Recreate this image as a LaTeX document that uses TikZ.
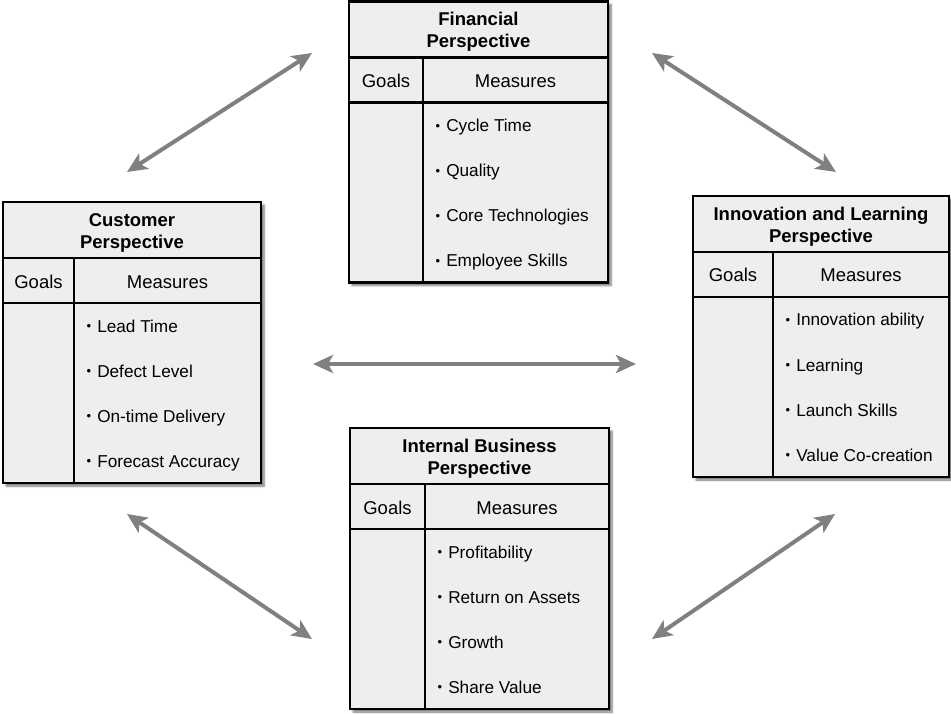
\documentclass[tikz,border=0pt]{standalone}
\usepackage{fontspec}
\setmainfont{Liberation Sans}
\usetikzlibrary{calc,arrows.meta,shadows.blur}

\definecolor{boxfill}{HTML}{EEEEEE}
\definecolor{linkgray}{HTML}{808080}

\tikzset{
  pbox/.style={draw=black, line width=2.8pt, fill=boxfill, outer sep=0pt, inner sep=0pt,
    blur shadow={shadow xshift=3pt, shadow yshift=-3pt, shadow blur steps=6, shadow opacity=55}},
  rule/.style={draw=black, line width=2.2pt},
  ttl/.style={font=\fontsize{18.5}{22}\selectfont\bfseries, inner sep=0pt, anchor=base},
  hdr/.style={font=\fontsize{18.5}{22}\selectfont, inner sep=0pt, anchor=base},
  itm/.style={font=\fontsize{17.2}{20}\selectfont, inner sep=0pt, anchor=base west},
  link/.style={draw=linkgray, line width=4pt,
    {Stealth[length=20pt,width=18pt,inset=5pt]}-{Stealth[length=20pt,width=18pt,inset=5pt]}},
}

% small raised bullet in front of each measure
\newcommand\measurebullet{\raisebox{1.3pt}{\fontsize{13}{13}\selectfont\textbullet}\hspace{6pt}}

% #1 name, #2 left, #3 top, #4 width, #5 goals column width,
% #6 and #7 title lines, #8 list of measures
\newcommand\perspective[8]{%
  \node[pbox, minimum width=#4pt, minimum height=281pt, anchor=north west] (#1) at (#2,#3) {};
  \draw[rule] ($(#1.north west)+(0,56)$) -- ($(#1.north east)+(0,56)$);
  \draw[rule] ($(#1.north west)+(0,101)$) -- ($(#1.north east)+(0,101)$);
  \draw[rule] ($(#1.north west)+(#5,56)$) -- ($(#1.south west)+(#5,0)$);
  \node[ttl] (#1-t1) at ($(#1.north)+(0,24.5)$) {#6};
  \node[ttl] (#1-t2) at ($(#1.north)+(0,46.3)$) {#7};
  \node[hdr] (#1-goals) at ($(#1.north west)+({#5/2},86)$) {Goals};
  \node[hdr] (#1-measures) at ($(#1.north east)+({(#5-#4)/2},86)$) {Measures};
  \foreach \m [count=\k] in {#8} {
    \node[itm] (#1-m\k) at ($(#1.north west)+({#5+12.5},{85+45*\k})$) {\measurebullet\m};
  }
}

\begin{document}
\begin{tikzpicture}[x=1pt,y=-1pt]
  \useasboundingbox (0,0) rectangle (951,714);

  % the four perspectives
  \perspective{fin}{349}{1.5}{259}{74}{Financial}{Perspective}%
    {Cycle Time, Quality, Core Technologies, Employee Skills}
  \perspective{cus}{3}{202}{258}{71}{Customer}{Perspective}%
    {Lead Time, Defect Level, On-time Delivery, Forecast Accuracy}
  \perspective{inn}{693}{196}{256}{80}{Innovation and Learning}{Perspective}%
    {Innovation ability, Learning, Launch Skills, Value Co-creation}
  \perspective{int}{350}{428}{259}{75}{Internal Business}{Perspective}%
    {Profitability, Return on Assets, Growth, Share Value}

  % ends of the two-way links
  \coordinate (cus-fin) at (127,172);
  \coordinate (fin-cus) at (312,53);
  \coordinate (fin-inn) at (652,53);
  \coordinate (inn-fin) at (836,172);
  \coordinate (cus-inn) at (313,364);
  \coordinate (inn-cus) at (636,364);
  \coordinate (cus-int) at (127,514);
  \coordinate (int-cus) at (312,639);
  \coordinate (int-inn) at (652,639);
  \coordinate (inn-int) at (835,514);

  \draw[link] (cus-fin) -- (fin-cus);
  \draw[link] (fin-inn) -- (inn-fin);
  \draw[link] (cus-inn) -- (inn-cus);
  \draw[link] (cus-int) -- (int-cus);
  \draw[link] (int-inn) -- (inn-int);
\end{tikzpicture}
\end{document}
